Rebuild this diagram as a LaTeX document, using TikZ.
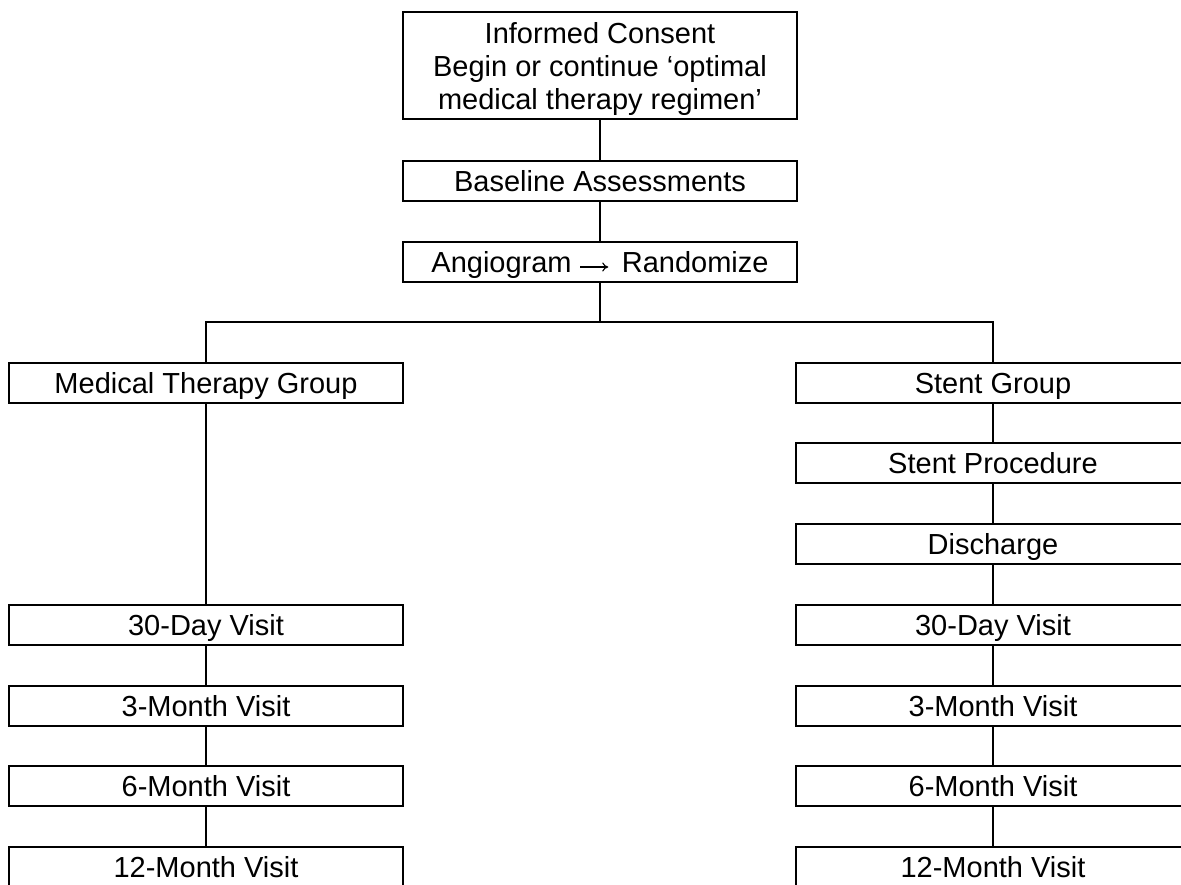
\documentclass[tikz,border=0pt]{standalone}
\usepackage{fontspec}
\setmainfont{Liberation Sans}
\usepackage{tikz}
\usetikzlibrary{arrows.meta}
\tikzset{%
  stepbox/.style={draw=black,line width=1.5pt,shape=rectangle,minimum width=394pt,minimum height=40pt,inner sep=0pt,text height=21pt,text depth=0pt,font=\fontsize{29}{33}\selectfont},
  topbox/.style={stepbox,minimum height=107pt,align=center,text height=,text depth=},
  link/.style={draw=black,line width=1.5pt}
}
\newcommand{\randarrow}{\tikz[baseline=0pt]\draw[line width=1.1pt,-{To[length=6pt,width=9pt]}] (0pt,5.5pt) -- (28pt,5.5pt);\hspace{5pt}}
\begin{document}
\begin{tikzpicture}[x=1pt,y=-1pt]
    \clip (0,0) rectangle (1181,884);
    \fill[white] (0,0) rectangle (1181,884);
    \path
      (600,65.5) node (consent)[topbox]{\rule{0pt}{29pt}Informed Consent\\Begin or continue `optimal\\medical therapy regimen'}
      (600,181) node (baseline)[stepbox]{Baseline Assessments}
      (600,262) node (angio)[stepbox]{Angiogram \randarrow{} Randomize};
    \coordinate (split) at (600,322);
    % medical therapy arm
    \path
      (206,383) node (med)[stepbox]{Medical Therapy Group}
      (206,625) node (medday)[stepbox]{30-Day Visit}
      (206,706) node (medthree)[stepbox]{3-Month Visit}
      (206,786) node (medsix)[stepbox]{6-Month Visit}
      (206,867) node (medtwelve)[stepbox]{12-Month Visit};
    % stent arm
    \path
      (993,383) node (stent)[stepbox]{Stent Group}
      (993,463) node (proc)[stepbox]{Stent Procedure}
      (993,544) node (disch)[stepbox]{Discharge}
      (993,625) node (stday)[stepbox]{30-Day Visit}
      (993,706) node (stthree)[stepbox]{3-Month Visit}
      (993,786) node (stsix)[stepbox]{6-Month Visit}
      (993,867) node (sttwelve)[stepbox]{12-Month Visit};
    \draw[link] (consent) -- (baseline);
    \draw[link] (baseline) -- (angio);
    \draw[link] (angio) -- (split);
    \draw[link] (split) -| (med);
    \draw[link] (split) -| (stent);
    \draw[link] (med) -- (medday);
    \draw[link] (medday) -- (medthree);
    \draw[link] (medthree) -- (medsix);
    \draw[link] (medsix) -- (medtwelve);
    \draw[link] (stent) -- (proc);
    \draw[link] (proc) -- (disch);
    \draw[link] (disch) -- (stday);
    \draw[link] (stday) -- (stthree);
    \draw[link] (stthree) -- (stsix);
    \draw[link] (stsix) -- (sttwelve);
  \end{tikzpicture}
\end{document}
